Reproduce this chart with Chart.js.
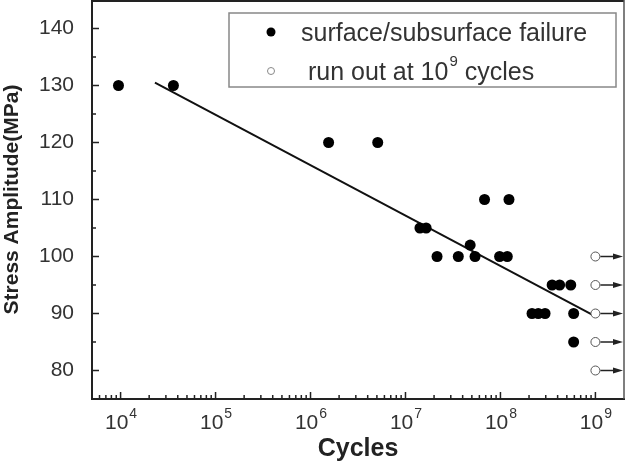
<!DOCTYPE html>
<html>
<head>
<meta charset="utf-8">
<script src="https://cdn.jsdelivr.net/npm/chart.js@4"></script>
<style>
  html, body { margin: 0; padding: 0; background: #fff; }
  #wrap { width: 626px; height: 466px; }
</style>
</head>
<body>
<div id="wrap"><canvas id="snChart" width="626" height="466"></canvas></div>
<script>
// fatigue data
const failCycles = [9.5e3, 3.6e4, 1.55e6, 5.1e6, 6.8e7, 1.23e8, 1.42e7, 1.65e7, 4.8e7,
    2.15e7, 3.6e7, 5.4e7, 9.8e7, 1.18e8, 3.5e8, 4.2e8, 5.5e8, 2.15e8, 2.5e8, 2.95e8, 5.9e8, 5.9e8];
const failStress = [130, 130, 120, 120, 110, 110, 105, 105, 102,
    100, 100, 100, 100, 100, 95, 95, 95, 90, 90, 90, 90, 85];
const runoutCycles = [1e9, 1e9, 1e9, 1e9, 1e9];
const runoutStress = [100, 95, 90, 85, 80];
const fitCycles = [2.3e4, 1e9];
const fitStress = [130.5, 89.5];

const xTicks = [1e4, 1e5, 1e6, 1e7, 1e8, 1e9];
const yTicks = [80, 90, 100, 110, 120, 130, 140];
const legendLabels = ['surface/subsurface failure', 'run out at 10', '9', ' cycles'];

const FONT = '"Liberation Sans", Arial, sans-serif';
const toPoints = (xs, ys) => xs.map((x, i) => ({ x: x, y: ys[i] }));

const decorations = {
    id: 'decorations',
    afterDraw(chart) {
        const ctx = chart.ctx;
        const area = chart.chartArea;
        const xs = chart.scales.x;
        const ys = chart.scales.y;
        ctx.save();

        // frame on top and right
        ctx.strokeStyle = '#222';
        ctx.lineWidth = 2;
        ctx.beginPath();
        ctx.moveTo(area.left, area.top + 1);
        ctx.lineTo(area.right, area.top + 1);
        ctx.stroke();
        ctx.strokeStyle = '#555';
        ctx.lineWidth = 1.5;
        ctx.beginPath();
        ctx.moveTo(area.right, area.top);
        ctx.lineTo(area.right, area.bottom);
        ctx.stroke();

        // inward ticks
        ctx.strokeStyle = '#222';
        ctx.lineWidth = 1.5;
        ctx.beginPath();
        for (let v = 80; v <= 140; v += 5) {
            const y = ys.getPixelForValue(v);
            const len = v % 10 === 0 ? 7 : 4;
            ctx.moveTo(area.left, y);
            ctx.lineTo(area.left + len, y);
        }
        for (let e = 3; e <= 9; e++) {
            for (let k = 1; k <= 9; k++) {
                const v = k * Math.pow(10, e);
                if (v < xs.min || v > xs.max * 0.99) continue;
                const x = xs.getPixelForValue(v);
                const len = k === 1 ? 7 : 4;
                ctx.moveTo(x, area.bottom);
                ctx.lineTo(x, area.bottom - len);
            }
        }
        ctx.stroke();

        // x tick labels with superscript exponent
        ctx.fillStyle = '#333';
        ctx.textBaseline = 'alphabetic';
        xTicks.forEach(v => {
            const x = xs.getPixelForValue(v);
            const exp = String(Math.round(Math.log10(v)));
            ctx.font = '21px ' + FONT;
            const w1 = ctx.measureText('10').width;
            ctx.font = '14px ' + FONT;
            const w2 = ctx.measureText(exp).width;
            const start = x - (w1 + w2) / 2;
            ctx.font = '21px ' + FONT;
            ctx.textAlign = 'left';
            ctx.fillText('10', start, area.bottom + 30);
            ctx.font = '14px ' + FONT;
            ctx.fillText(exp, start + w1 + 1, area.bottom + 19);
        });

        // run-out arrows
        const meta = chart.getDatasetMeta(1);
        ctx.strokeStyle = '#222';
        ctx.fillStyle = '#222';
        ctx.lineWidth = 1.5;
        meta.data.forEach(pt => {
            const x0 = pt.x + 5, x1 = area.right - 1, y = pt.y;
            ctx.beginPath();
            ctx.moveTo(x0, y);
            ctx.lineTo(x1 - 8, y);
            ctx.stroke();
            ctx.beginPath();
            ctx.moveTo(x1, y);
            ctx.lineTo(x1 - 10, y - 3);
            ctx.lineTo(x1 - 10, y + 3);
            ctx.closePath();
            ctx.fill();
        });

        // legend box
        const lx = 229, ly = 13, lw = 387, lh = 74;
        ctx.strokeStyle = '#888';
        ctx.lineWidth = 1.5;
        ctx.strokeRect(lx, ly, lw, lh);
        ctx.fillStyle = '#000';
        ctx.beginPath();
        ctx.arc(271, 32, 4.5, 0, Math.PI * 2);
        ctx.fill();
        ctx.strokeStyle = '#888';
        ctx.lineWidth = 1;
        ctx.beginPath();
        ctx.arc(271, 71, 3.5, 0, Math.PI * 2);
        ctx.stroke();

        ctx.fillStyle = '#333';
        ctx.textAlign = 'left';
        ctx.font = '25px ' + FONT;
        ctx.fillText(legendLabels[0], 301, 41);
        ctx.fillText(legendLabels[1], 308, 80);
        let cx = 308 + ctx.measureText(legendLabels[1]).width + 1;
        ctx.font = '15px ' + FONT;
        ctx.fillText(legendLabels[2], cx, 66);
        cx += ctx.measureText(legendLabels[2]).width;
        ctx.font = '25px ' + FONT;
        ctx.fillText(legendLabels[3], cx, 80);
        ctx.restore();
    }
};

new Chart(document.getElementById('snChart'), {
    type: 'scatter',
    data: {
        datasets: [
            {
                label: 'surface/subsurface failure',
                data: toPoints(failCycles, failStress),
                pointRadius: 5.5,
                backgroundColor: '#000',
                borderWidth: 0
            },
            {
                label: 'run out at 10^9 cycles',
                data: toPoints(runoutCycles, runoutStress),
                pointRadius: 4.5,
                backgroundColor: '#fff',
                borderColor: '#555',
                borderWidth: 1
            },
            {
                type: 'line',
                label: 'fit',
                data: toPoints(fitCycles, fitStress),
                showLine: true,
                pointRadius: 0,
                borderColor: '#111',
                borderWidth: 2,
                order: 5
            }
        ]
    },
    plugins: [decorations],
    options: {
        responsive: false,
        animation: false,
        events: [],
        layout: { autoPadding: false, padding: { top: 0, right: 2, left: 0, bottom: 0 } },
        plugins: {
            legend: { display: false },
            tooltip: { enabled: false }
        },
        scales: {
            x: {
                type: 'logarithmic',
                min: 5e3,
                max: 2e9,
                grid: { display: false },
                border: { display: true, color: '#222', width: 2 },
                ticks: { display: false },
                afterBuildTicks: scale => { scale.ticks = xTicks.map(v => ({ value: v })); },
                afterFit: scale => {
                    scale.height = 67;
                    scale.paddingLeft = 0;
                    scale.paddingRight = 0;
                },
                title: {
                    display: true,
                    text: 'Cycles',
                    color: '#222',
                    font: { family: FONT, size: 25, weight: 'bold' },
                    padding: { top: 0, bottom: 2 }
                }
            },
            y: {
                min: 75,
                max: 145,
                grid: { display: false },
                border: { display: true, color: '#222', width: 2 },
                afterBuildTicks: scale => { scale.ticks = yTicks.map(v => ({ value: v })); },
                afterFit: scale => {
                    scale.width = 92;
                    scale.paddingTop = 0;
                    scale.paddingBottom = 0;
                },
                ticks: {
                    color: '#333',
                    padding: 10,
                    font: { family: FONT, size: 21 }
                },
                title: {
                    display: true,
                    text: 'Stress Amplitude(MPa)',
                    color: '#222',
                    font: { family: FONT, size: 21, weight: 'bold' },
                    padding: { top: 0, bottom: 2 }
                }
            }
        }
    }
});
</script>
</body>
</html>
